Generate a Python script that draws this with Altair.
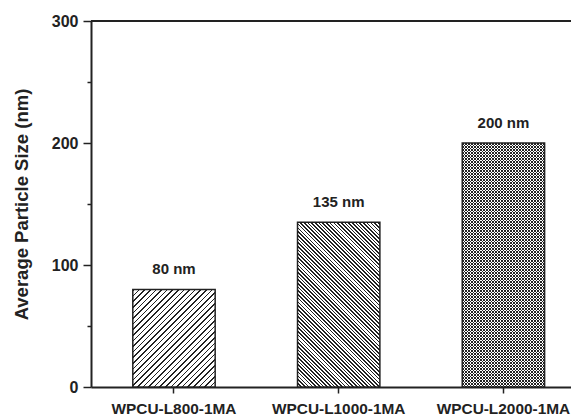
import math
import altair as alt
import pandas as pd

# ---- data ----
samples = ["WPCU-L800-1MA", "WPCU-L1000-1MA", "WPCU-L2000-1MA"]
sizes = [80, 135, 200]
y_tick_values = [0, 50, 100, 150, 200, 250, 300]

df = pd.DataFrame({"sample": samples, "size": sizes})

# ---- layout ----
W, H = 480, 366
YMAX = 300
P_INNER, P_OUTER, ALIGN = 0.5, 0.207, 0.613
STEP = W / (len(samples) - P_INNER + 2 * P_OUTER)
BW = STEP * (1 - P_INNER)
FONT = "Liberation Sans, Arial, sans-serif"
INK = "#222222"


def stripe_gradient(w, h, y0, period, dark_frac, direction, dark="#222222", light="#ffffff"):
    """Linear gradient that renders as diagonal hatch lines inside a w x h box
    whose top edge sits at y0 px (used to keep the stripe phase global)."""
    s = (w + h) / (w * w + h * h)
    L = w + h
    c = (y0 % period) if direction == "/" else (-(h + y0)) % period
    stops = [{"offset": 0, "color": light}]
    k = math.floor(c / period) - 1
    while True:
        a = k * period - c
        if a > L:
            break
        b = a + dark_frac * period
        a0, b0 = max(a, 0) / L, min(max(b, 0), L) / L
        if b0 > a0:
            stops += [
                {"offset": round(a0, 5), "color": light},
                {"offset": round(a0, 5), "color": dark},
                {"offset": round(b0, 5), "color": dark},
                {"offset": round(b0, 5), "color": light},
            ]
        k += 1
    stops.append({"offset": 1, "color": light})
    if direction == "/":
        g = {"gradient": "linear", "x1": 0, "y1": 0, "x2": w * s, "y2": h * s}
    else:
        g = {"gradient": "linear", "x1": 0, "y1": 1, "x2": w * s, "y2": 1 - h * s}
    g["stops"] = stops
    return g


x_enc = alt.X(
    "sample:N",
    sort=samples,
    scale=alt.Scale(domain=samples, paddingInner=P_INNER, paddingOuter=P_OUTER, align=ALIGN),
    axis=alt.Axis(
        title=None, labelAngle=0, labelFont=FONT, labelFontSize=15.4, labelFontWeight="bold",
        labelColor=INK, tickSize=6, tickWidth=1.5, tickColor=INK, domainWidth=2,
        domainColor=INK, labelPadding=8, grid=False, labelOverlap=False,
    ),
)
y_axis = alt.Axis(
    values=y_tick_values,
    title="Average Particle Size (nm)",
    titleFont=FONT, titleFontSize=18.5, titleFontWeight="bold", titleColor=INK,
    titlePadding=20,
    labelFont=FONT, labelFontSize=16, labelFontWeight="bold", labelColor=INK,
    labelExpr="datum.value % 100 === 0 ? datum.label : ''",
    labelPadding=5,
    tickSize={"condition": {"test": "datum.value % 100 === 0", "value": 8}, "value": 4},
    tickWidth=1.5, tickColor=INK, domainWidth=2, domainColor=INK, grid=False,
)
y_scale = alt.Scale(domain=[0, YMAX], nice=False)
y_enc = alt.Y("size:Q", scale=y_scale, axis=y_axis)

base = alt.Chart(df)
layers = []
# (direction, period px, dark fraction, background)
styles = [
    [("/", 5.6, 0.32, "#ffffff")],
    [("\\", 3.7, 0.45, "#ffffff")],
    [("/", 3.0, 0.4, "#ffffff"), ("\\", 3.0, 0.4, "rgba(255,255,255,0)")],
]
for name, val, st in zip(samples, sizes, styles):
    h = val / YMAX * H
    y0 = H - h
    for d, per, frac, light in st:
        layers.append(
            base.transform_filter(alt.datum.sample == name)
            .mark_bar(fill=stripe_gradient(BW, h, y0, per, frac, d, light=light), strokeWidth=0)
            .encode(x=x_enc, y=y_enc)
        )
# outlines
layers.append(
    base.mark_bar(fill="transparent", stroke=INK, strokeWidth=1.5).encode(x=x_enc, y=y_enc)
)

text = base.transform_calculate(label="datum.size + ' nm'").mark_text(
    font=FONT, fontSize=15, fontWeight="bold", color=INK, baseline="middle", dy=-20
).encode(x=x_enc, y=y_enc, text="label:N")

top_rule = alt.Chart(df).mark_rule(color=INK, strokeWidth=2).encode(
    y=alt.datum(YMAX), x=alt.value(0), x2=alt.value(W + 20)
)

chart = (
    alt.layer(*layers, text, top_rule)
    .properties(
        width=W, height=H,
        autosize=alt.AutoSizeParams(type="none"),
        padding={"left": 83, "top": 13, "right": 0, "bottom": 29},
        background="white",
    )
    .configure_view(stroke=None)
)

chart.save("out.html", embed_options={"renderer": "svg", "actions": False})
